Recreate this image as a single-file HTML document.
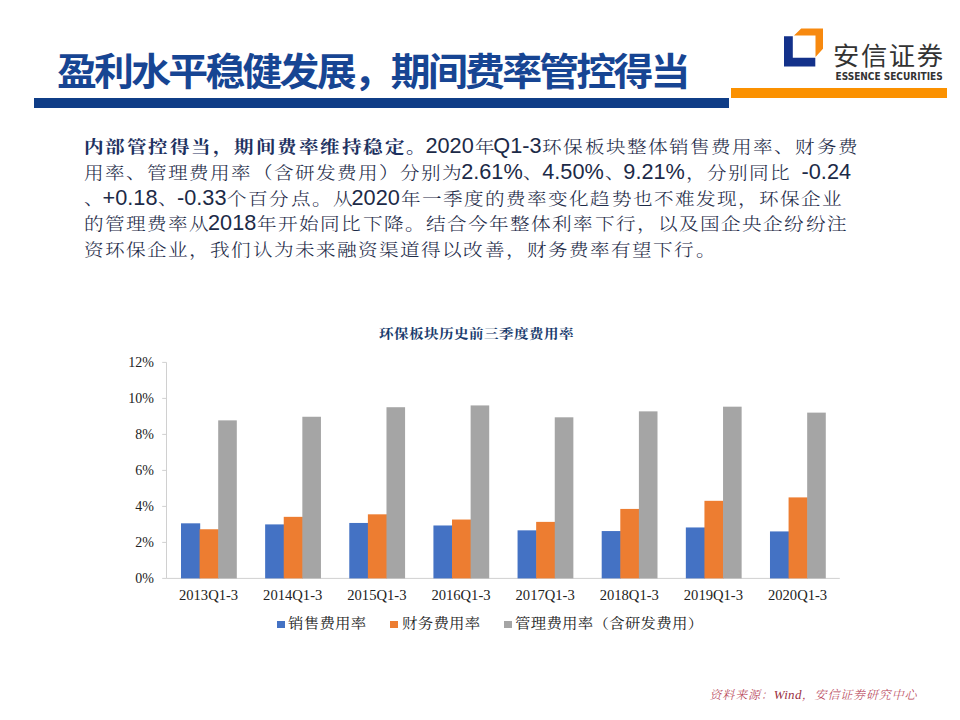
<!DOCTYPE html>
<html lang="zh-CN">
<head>
<meta charset="utf-8">
<title>盈利水平稳健发展，期间费率管控得当</title>
<style>
html,body{margin:0;padding:0;background:#fff;}
body{width:960px;height:720px;position:relative;overflow:hidden;}
.abs{position:absolute;white-space:nowrap;}
#title{left:57px;top:47px;font-family:"Liberation Sans","Noto Sans CJK SC",sans-serif;font-weight:700;font-size:38px;line-height:50px;color:#174593;letter-spacing:-2.67px;transform:scaleX(1.05);transform-origin:0 0;}
#bbar{left:34px;top:98px;width:695px;height:10px;background:#0F3D87;}
#obar{left:731px;top:88px;width:216px;height:10px;background:#FB9100;}
#logo{left:0;top:0;}
#cn{left:833px;top:41px;font-family:"Liberation Sans","Noto Sans CJK SC",sans-serif;font-size:25.5px;line-height:30px;color:#333;letter-spacing:1.59px;transform:scaleX(1.03);transform-origin:0 0;}
#en{left:835.5px;top:71px;font-family:"DejaVu Sans Condensed","DejaVu Sans",sans-serif;font-weight:700;font-size:10px;line-height:12px;color:#333;letter-spacing:0px;}
.p{position:absolute;white-space:nowrap;left:83px;font-weight:300;padding-left:1.79px;font-family:"Noto Serif CJK SC",serif;font-size:17.5px;line-height:26px;color:#1C2A47;letter-spacing:3.58px;}
.p i{font-style:normal;display:inline-block;transform:scaleX(1.12);transform-origin:8.75px 0;}
.p .l{font-family:"Liberation Sans",sans-serif;font-size:21.7px;letter-spacing:0;margin-left:-3.3px;margin-right:1.79px;}
.p b{font-weight:700;color:#1D3160;letter-spacing:3.99px;}
#chart{left:0;top:0;}
.xl{font-family:"Liberation Serif",serif;font-size:14.6px;fill:#222;}
.yl{font-family:"Liberation Serif",serif;font-size:14px;fill:#222;}
.ax{stroke:#D0D0D0;stroke-width:1;}
#ctitle{left:379px;top:324px;font-family:"Liberation Serif","Noto Serif CJK SC",serif;font-weight:700;font-size:13px;line-height:20px;color:#1A3C6E;letter-spacing:0.39px;transform:scaleX(1.12);transform-origin:0 0;}
.lg{top:614px;font-family:"Liberation Serif","Noto Serif CJK SC",serif;font-size:14px;line-height:20px;color:#222;letter-spacing:0.27px;transform:scaleX(1.1);transform-origin:0 0;}
.sq{position:absolute;width:8px;height:7px;top:621px;}
#src{left:709.5px;top:685.5px;font-weight:300;font-family:"Liberation Serif","Noto Serif CJK SC",serif;font-style:italic;font-size:12px;line-height:18px;color:#B53B52;letter-spacing:0.85px;}
#src span{font-size:13px;letter-spacing:0.3px;font-weight:400;color:#9A2F42;}
</style>
</head>
<body>
<div id="title" class="abs">盈利水平稳健发展，期间费率管控得当</div>
<div id="bbar" class="abs"></div>
<div id="obar" class="abs"></div>
<svg id="logo" class="abs" width="960" height="120" viewBox="0 0 960 120">
<polygon points="801.2,28.4 823,28.4 823,48.8 815.5,57 815.5,35.6 794,35.6" fill="#F7890F"/>
<polygon points="784,36.3 792.8,36.3 792.8,57.8 815.3,57.8 815.3,66.5 784,66.5" fill="#13318A"/>
</svg>
<div id="cn" class="abs">安信证券</div>
<div id="en" class="abs">ESSENCE SECURITIES</div>
<div class="p" style="top:133px"><b><i>内</i><i>部</i><i>管</i><i>控</i><i>得</i><i>当</i><i>，</i><i>期</i><i>间</i><i>费</i><i>率</i><i>维</i><i>持</i><i>稳</i><i>定</i><i>。</i></b><span class="l">2020</span><i>年</i><span class="l">Q1-3</span><i>环</i><i>保</i><i>板</i><i>块</i><i>整</i><i>体</i><i>销</i><i>售</i><i>费</i><i>用</i><i>率</i><i>、</i><i>财</i><i>务</i><i>费</i></div>
<div class="p" style="top:159px"><i>用</i><i>率</i><i>、</i><i>管</i><i>理</i><i>费</i><i>用</i><i>率</i><i>（</i><i>含</i><i>研</i><i>发</i><i>费</i><i>用</i><i>）</i><i>分</i><i>别</i><i>为</i><span class="l">2.61%</span><i>、</i><span class="l">4.50%</span><i>、</i><span class="l">9.21%</span><i>，</i><i>分</i><i>别</i><i>同</i><i>比</i><span class="l" style="margin-left:9.5px">-0.24</span></div>
<div class="p" style="top:184.5px"><i>、</i><span class="l">+0.18</span><i>、</i><span class="l">-0.33</span><i>个</i><i>百</i><i>分</i><i>点</i><i>。</i><i>从</i><span class="l">2020</span><i>年</i><i>一</i><i>季</i><i>度</i><i>的</i><i>费</i><i>率</i><i>变</i><i>化</i><i>趋</i><i>势</i><i>也</i><i>不</i><i>难</i><i>发</i><i>现</i><i>，</i><i>环</i><i>保</i><i>企</i><i>业</i></div>
<div class="p" style="top:210px"><i>的</i><i>管</i><i>理</i><i>费</i><i>率</i><i>从</i><span class="l">2018</span><i>年</i><i>开</i><i>始</i><i>同</i><i>比</i><i>下</i><i>降</i><i>。</i><i>结</i><i>合</i><i>今</i><i>年</i><i>整</i><i>体</i><i>利</i><i>率</i><i>下</i><i>行</i><i>，</i><i>以</i><i>及</i><i>国</i><i>企</i><i>央</i><i>企</i><i>纷</i><i>纷</i><i>注</i></div>
<div class="p" style="top:235.5px"><i>资</i><i>环</i><i>保</i><i>企</i><i>业</i><i>，</i><i>我</i><i>们</i><i>认</i><i>为</i><i>未</i><i>来</i><i>融</i><i>资</i><i>渠</i><i>道</i><i>得</i><i>以</i><i>改</i><i>善</i><i>，</i><i>财</i><i>务</i><i>费</i><i>率</i><i>有</i><i>望</i><i>下</i><i>行</i><i>。</i></div>
<div id="ctitle" class="abs">环保板块历史前三季度费用率</div>
<svg id="chart" class="abs" width="960" height="720" viewBox="0 0 960 720">
<line x1="166.5" y1="362.4" x2="166.5" y2="578.4" class="ax"/>
<line x1="166.5" y1="578.4" x2="839.8" y2="578.4" class="ax"/>
<rect x="181.00" y="523.32" width="19.20" height="55.08" fill="#4472C4"/>
<rect x="199.60" y="529.26" width="19.20" height="49.14" fill="#ED7D31"/>
<rect x="218.20" y="420.36" width="18.60" height="158.04" fill="#A5A5A5"/>
<text x="208.57" y="600" text-anchor="middle" class="xl">2013Q1-3</text>
<rect x="265.14" y="524.40" width="19.20" height="54.00" fill="#4472C4"/>
<rect x="283.74" y="516.84" width="19.20" height="61.56" fill="#ED7D31"/>
<rect x="302.34" y="416.76" width="18.60" height="161.64" fill="#A5A5A5"/>
<text x="292.71" y="600" text-anchor="middle" class="xl">2014Q1-3</text>
<rect x="349.28" y="522.96" width="19.20" height="55.44" fill="#4472C4"/>
<rect x="367.88" y="514.32" width="19.20" height="64.08" fill="#ED7D31"/>
<rect x="386.48" y="407.22" width="18.60" height="171.18" fill="#A5A5A5"/>
<text x="376.85" y="600" text-anchor="middle" class="xl">2015Q1-3</text>
<rect x="433.42" y="525.48" width="19.20" height="52.92" fill="#4472C4"/>
<rect x="452.02" y="519.54" width="19.20" height="58.86" fill="#ED7D31"/>
<rect x="470.62" y="405.42" width="18.60" height="172.98" fill="#A5A5A5"/>
<text x="460.99" y="600" text-anchor="middle" class="xl">2016Q1-3</text>
<rect x="517.56" y="530.34" width="19.20" height="48.06" fill="#4472C4"/>
<rect x="536.16" y="521.88" width="19.20" height="56.52" fill="#ED7D31"/>
<rect x="554.76" y="417.30" width="18.60" height="161.10" fill="#A5A5A5"/>
<text x="545.13" y="600" text-anchor="middle" class="xl">2017Q1-3</text>
<rect x="601.70" y="531.06" width="19.20" height="47.34" fill="#4472C4"/>
<rect x="620.30" y="508.92" width="19.20" height="69.48" fill="#ED7D31"/>
<rect x="638.90" y="411.36" width="18.60" height="167.04" fill="#A5A5A5"/>
<text x="629.27" y="600" text-anchor="middle" class="xl">2018Q1-3</text>
<rect x="685.84" y="527.46" width="19.20" height="50.94" fill="#4472C4"/>
<rect x="704.44" y="500.82" width="19.20" height="77.58" fill="#ED7D31"/>
<rect x="723.04" y="406.68" width="18.60" height="171.72" fill="#A5A5A5"/>
<text x="713.41" y="600" text-anchor="middle" class="xl">2019Q1-3</text>
<rect x="769.98" y="531.42" width="19.20" height="46.98" fill="#4472C4"/>
<rect x="788.58" y="497.40" width="19.20" height="81.00" fill="#ED7D31"/>
<rect x="807.18" y="412.62" width="18.60" height="165.78" fill="#A5A5A5"/>
<text x="797.55" y="600" text-anchor="middle" class="xl">2020Q1-3</text>
<line x1="162.2" y1="578.40" x2="166.5" y2="578.40" class="ax"/>
<text x="154" y="583.20" text-anchor="end" class="yl">0%</text>
<line x1="162.2" y1="542.40" x2="166.5" y2="542.40" class="ax"/>
<text x="154" y="547.20" text-anchor="end" class="yl">2%</text>
<line x1="162.2" y1="506.40" x2="166.5" y2="506.40" class="ax"/>
<text x="154" y="511.20" text-anchor="end" class="yl">4%</text>
<line x1="162.2" y1="470.40" x2="166.5" y2="470.40" class="ax"/>
<text x="154" y="475.20" text-anchor="end" class="yl">6%</text>
<line x1="162.2" y1="434.40" x2="166.5" y2="434.40" class="ax"/>
<text x="154" y="439.20" text-anchor="end" class="yl">8%</text>
<line x1="162.2" y1="398.40" x2="166.5" y2="398.40" class="ax"/>
<text x="154" y="403.20" text-anchor="end" class="yl">10%</text>
<line x1="162.2" y1="362.40" x2="166.5" y2="362.40" class="ax"/>
<text x="154" y="367.20" text-anchor="end" class="yl">12%</text>
</svg>
<div class="sq" style="left:276.5px;background:#4472C4"></div>
<div class="abs lg" style="left:288px">销售费用率</div>
<div class="sq" style="left:390px;background:#ED7D31"></div>
<div class="abs lg" style="left:402px">财务费用率</div>
<div class="sq" style="left:504px;background:#A5A5A5"></div>
<div class="abs lg" style="left:515px">管理费用率（含研发费用）</div>
<div id="src" class="abs">资料来源：<span>Wind</span>，安信证券研究中心</div>
</body>
</html>
